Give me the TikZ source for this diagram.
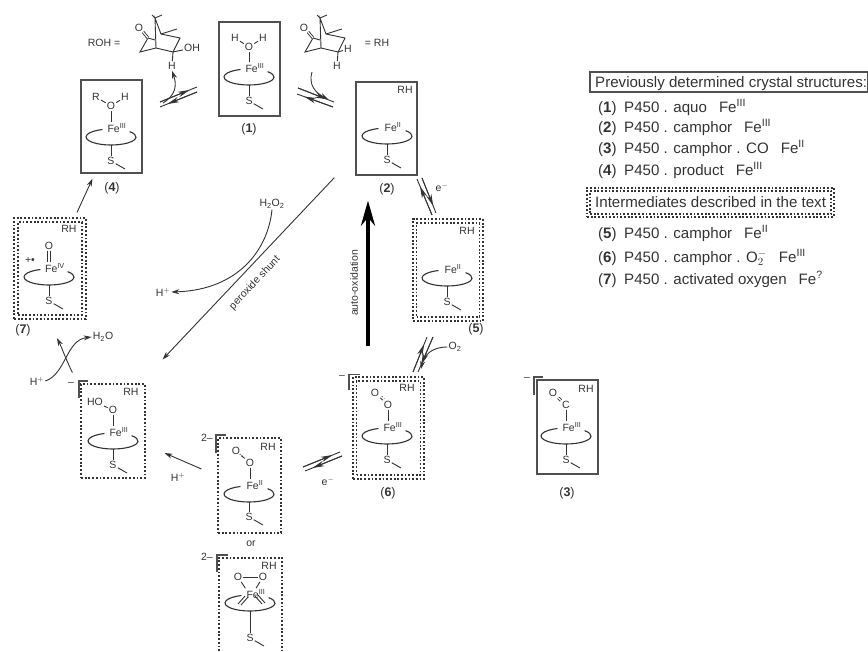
\documentclass[tikz,border=0pt]{standalone}
\usepackage{fontspec}
\setmainfont{Liberation Sans}
\usetikzlibrary{arrows.meta,calc}
\definecolor{inkgray}{HTML}{333333}
\definecolor{boxgray}{HTML}{505050}
\tikzset{
	bondline/.style={line width=0.9pt, color=inkgray},
	ringline/.style={line width=1.1pt, color=inkgray},
	solidbox/.style={draw=boxgray, line width=1.3pt, inner sep=0pt},
	dotbox/.style={draw=inkgray, line width=1.1pt, dash pattern=on 1.8pt off 1.9pt, inner sep=0pt},
	bracketline/.style={line width=1.6pt, color=boxgray},
	legendtext/.style={font=\fontsize{15.1}{17}\selectfont, anchor=base west},
	cmpdlabel/.style={font=\fontsize{12.5}{14}\selectfont}
}
% ring, stem and thioether of one heme unit
\newcommand{\hemeunit}[5]{%
	\begin{scope}[shift={(#2,#3)}]
		\draw[ringline] (18.6,-5.35) arc[start angle=42, end angle=-250, x radius=25pt, y radius=8pt];
		\node (#1fe) at (6,-9) {Fe\textsuperscript{#4}};
		\node (#1s) at (0,#5) {S};
		\draw[bondline] (0,8) -- (#1s);
		\draw[bondline] (#1s) -- (14,#5+8);
	\end{scope}
}
% equilibrium arrow pair, each line with its own head
\newcommand{\eqpair}[5]{%
	\coordinate (#1a) at (#2); \coordinate (#1b) at (#3);
	\coordinate (#1c) at (#4); \coordinate (#1d) at (#5);
	\draw[bondline] (#1a) -- (#1b);
	\draw[bondline, -{Stealth[length=12pt,width=5.5pt]}] (#1a) -- ($(#1a)!0.8!(#1b)$);
	\draw[bondline] (#1c) -- (#1d);
	\draw[bondline, -{Stealth[length=12pt,width=5.5pt]}] (#1d) -- ($(#1d)!0.8!(#1c)$);
}
% bicyclic cage of the substrate
\newcommand{\cagelines}[1]{%
	\begin{scope}[xshift=#1pt]
		\draw[bondline] (148,38) -- (140,52) -- (156,48) -- (155,18) -- (161,34) -- (180,38) -- (173,52) -- (156,48);
		\draw[bondline] (148,38) -- (155,40);
		\draw[bondline] (161,34) -- (177,29);
		\draw[bondline] (152,15) -- (155,18) -- (162,15);
		\draw[bondline, double, double distance=1.2pt] (143,32) -- (148,38);
		\node (cageo#1) at (139,28) {O};
	\end{scope}
}
\begin{document}
\begin{tikzpicture}[x=1pt, y=-1pt, >={Stealth[length=8pt,width=5pt]},
	every node/.style={font=\fontsize{10.5}{12}\selectfont, text=inkgray, inner sep=1pt}]
	\useasboundingbox (0,0) rectangle (868,651);

	% ==== boxes ====
	\node[solidbox, minimum width=61pt, minimum height=94pt] (boxi) at (249.5,69) {};
	\node[solidbox, minimum width=61pt, minimum height=93pt] (boxiv) at (111.5,126.5) {};
	\node[solidbox, minimum width=61pt, minimum height=93pt] (boxii) at (386.5,128.5) {};
	\node[solidbox, minimum width=61pt, minimum height=94pt] (boxiii) at (567.5,427) {};
	\node[dotbox, minimum width=72pt, minimum height=101pt] (boxvii) at (50,268.5) {};
	\node[dotbox, minimum width=64pt, minimum height=93pt] (boxviiin) at (50,268.5) {};
	\node[dotbox, minimum width=70pt, minimum height=102pt] (boxv) at (448,270) {};
	\node[dotbox, minimum width=63pt, minimum height=94pt] (boxvin) at (448,270) {};
	\node[dotbox, minimum width=71pt, minimum height=102pt] (boxvi) at (388.5,428) {};
	\node[dotbox, minimum width=64pt, minimum height=94pt] (boxviin) at (388.5,428) {};
	\node[dotbox, minimum width=64pt, minimum height=94pt] (boxhoo) at (113,431) {};
	\node[dotbox, minimum width=63pt, minimum height=95pt] (boxiia) at (249.5,485.5) {};
	\draw[line width=1.1pt, color=inkgray, dash pattern=on 1.8pt off 1.9pt] (219,651) -- (219,558) -- (282,558) -- (282,651);

	% ==== heme units ====
	\hemeunit{i}{249}{77}{III}{24}
	\hemeunit{iv}{111}{137}{III}{24}
	\hemeunit{ii}{387}{136}{II}{24}
	\hemeunit{v}{447}{278}{II}{24}
	\hemeunit{vi}{387}{436}{III}{24}
	\hemeunit{iii}{566}{436}{III}{24}
	\hemeunit{vii}{49}{277}{IV}{24}
	\hemeunit{hoo}{113}{441}{III}{24}
	\hemeunit{iia}{249}{494}{II}{23}
	\hemeunit{iib}{250}{603}{III}{35}

	% ==== axial ligands ====
	\node (oi) at (249,47) {O};
	\node (hil) at (235,38) {H};
	\node (hir) at (263,38) {H};
	\draw[bondline] (hil) -- (oi);
	\draw[bondline] (hir) -- (oi);
	\draw[bondline] (oi) -- (oi |- ife.north);

	\node (oiv) at (111,106) {O};
	\node (riv) at (96,97) {R};
	\node (hiv) at (125,97) {H};
	\draw[bondline] (riv) -- (oiv);
	\draw[bondline] (hiv) -- (oiv);
	\draw[bondline] (oiv) -- (oiv |- ivfe.north);

	\node (ovii) at (49,246) {O};
	\draw[bondline, double, double distance=1.4pt] (ovii) -- (ovii |- viife.north);
	\node (radvii) at (30,260) {+•};

	\node (cvi) at (388,405) {O};
	\node (ovi) at (375,393) {O};
	\draw[bondline] (ovi) -- (cvi);
	\draw[bondline, dotted, transform canvas={xshift=1.5pt, yshift=1.5pt}] (ovi) -- (cvi);
	\draw[bondline] (cvi) -- (cvi |- vife.north);

	\node (ciii) at (566,405) {C};
	\node (oiii) at (553,393) {O};
	\draw[bondline, double, double distance=1.2pt] (oiii) -- (ciii);
	\draw[bondline] (ciii) -- (ciii |- iiife.north);

	\node (ohoo) at (113,410) {O};
	\node (hohoo) at (95,402) {HO};
	\draw[bondline] (hohoo) -- (ohoo);
	\draw[bondline] (ohoo) -- (ohoo |- hoofe.north);

	\node (oiia) at (250,463) {O};
	\node (oiiap) at (236,451) {O};
	\draw[bondline] (oiiap) -- (oiia);
	\draw[bondline, dotted, transform canvas={xshift=-1.5pt, yshift=1.5pt}] (oiiap) -- (oiia);
	\draw[bondline] (oiia) -- (oiia |- iiafe.north);

	\node (oibl) at (238,577) {O};
	\node (oibr) at (263,577) {O};
	\draw[bondline] (oibl) -- (oibr);
	\draw[bondline] (oibl) -- (iibfe.north west);
	\draw[bondline] (oibr) -- (iibfe.north);
	\draw[bondline] (238,604) -- (245,596);
	\draw[bondline] (241,605) -- (248,597);
	\draw[bondline] (255,596) -- (262,604);
	\draw[bondline] (258,595) -- (265,603);

	% ==== RH tags ====
	\node (rhii) at (405,90) {RH};
	\node (rhvii) at (69,229) {RH};
	\node (rhv) at (467,231) {RH};
	\node (rhvi) at (407,388) {RH};
	\node (rhiii) at (586,389) {RH};
	\node (rhhoo) at (131,392) {RH};
	\node (rhiia) at (268,447) {RH};
	\node (rhiib) at (269,566) {RH};

	% ==== charge brackets ====
	\draw[bracketline] (349,390) -- (349,374.5) -- (360,374.5);
	\node (chvi) at (342,377) {--};
	\draw[bracketline] (534,395) -- (534,377) -- (543,377);
	\node (chiii) at (527,379) {--};
	\draw[bracketline] (79,398) -- (79,381) -- (88,381);
	\node (chhoo) at (71,384) {--};
	\draw[bracketline] (216,453) -- (216,435) -- (226,435);
	\node (chiia) at (207,438) {2--};
	\draw[bracketline] (217,572) -- (217,555) -- (228,555);
	\node (chiib) at (207,557) {2--};

	% ==== compound labels ====
	\node[cmpdlabel] (lbli) at (249,129) {(\textbf{1})};
	\node[cmpdlabel] (lbliv) at (112,188) {(\textbf{4})};
	\node[cmpdlabel] (lblii) at (387,189) {(\textbf{2})};
	\node[cmpdlabel] (lblvii) at (23,330) {(\textbf{7})};
	\node[cmpdlabel] (lblv) at (476,329) {(\textbf{5})};
	\node[cmpdlabel] (lblvi) at (388,493) {(\textbf{6})};
	\node[cmpdlabel] (lbliii) at (567,493) {(\textbf{3})};
	\node (lblor) at (251,544) {or};

	% ==== substrate and product ====
	\node (rohtext) at (104,43) {ROH =};
	\cagelines{0}
	\node (ohl) at (192,48) {OH};
	\node (hl) at (172,66) {H};
	\draw[bondline] (173,52) -- (ohl);
	\draw[bondline] (173,52) -- (hl);
	\node (rhtext) at (377,43) {= RH};
	\cagelines{165}
	\node (hrr) at (348,49) {H};
	\node (hrb) at (337,66) {H};
	\draw[bondline] (338,52) -- (hrr);
	\draw[bondline] (338,52) -- (hrb);

	% ==== cycle arrows ====
	\eqpair{eqa}{160,102}{197,87}{160,107}{197,92}
	\eqpair{eqb}{298,88}{334,102}{297,94}{333,107}
	\eqpair{eqc}{432,215}{417,179}{436,213}{422,178}
	\eqpair{eqd}{413,372}{427,337}{418,372}{433,337}
	\eqpair{eqe}{303,467}{340,452}{305,471}{342,456}
	\draw[bondline, ->] (163,103) .. controls (176,95) and (177,85) .. (hl.south);
	\draw[bondline, ->] (312,72) .. controls (308,85) and (316,93) .. (328,99);
	\draw[bondline, ->] ($(boxvii.north)+(27,-5)$) -- ($(boxiv.south)+(-19,5)$);

	\node (eii) at (442,187) {e$^{-}$};
	\node (oii) at (455,347) {O\textsubscript{2}};
	\draw[bondline, ->] (oii.west) .. controls (432,347) and (424,355) .. (421,369);
	\node (evi) at (328,481) {e$^{-}$};

	\draw[line width=4pt, color=black, -{Stealth[length=25pt,width=14pt]}] ($(boxvi.north)+(-20.5,-30)$) -- ($(boxii.south)+(-18.5,25)$);
	\node[rotate=90] (autotext) at (354,283) {auto-oxidation};

	\draw[bondline, ->] ($(boxii.south west)+(-21,2)$) -- ($(boxhoo.north east)+(17,-24)$);
	\node[rotate=47] (shunttext) at (255,283) {peroxide shunt};
	\node (hhoo) at (272,204) {H\textsubscript{2}O\textsubscript{2}};
	\node (hpa) at (163,292) {H$^{+}$};
	\draw[bondline, ->] (hhoo.south) .. controls (268,250) and (238,290) .. (hpa.east);

	\node (hpb) at (37,381) {H$^{+}$};
	\node (hwat) at (103,337) {H\textsubscript{2}O};
	\draw[bondline, ->] (hpb.east) .. controls (66,374) and (66,340) .. (hwat.west);
	\draw[bondline, ->] ($(boxhoo.north west)+(-8,-11)$) .. controls (66,360) and (62,348) .. (57,338);

	\node (hpc) at (178,477) {H$^{+}$};
	\draw[bondline, ->] ($(boxiia.west)+(-16,-16.5)$) -- ($(boxhoo.east)+(19,22)$);

	% ==== legend ====
	\node[solidbox, minimum width=278pt, minimum height=20pt, line width=1.1pt] (legboxa) at (729,82) {};
	\node[legendtext] (leghead) at (594,87) {Previously determined crystal structures:};
	\foreach \n/\y/\txt in {1/112/aquo\hspace{12pt}Fe\textsuperscript{III},
		2/132/camphor\hspace{12pt}Fe\textsuperscript{III},
		3/153/camphor . CO\hspace{12pt}Fe\textsuperscript{II},
		4/175/product\hspace{12pt}Fe\textsuperscript{III},
		5/238/camphor\hspace{12pt}Fe\textsuperscript{II},
		6/262/camphor . O$_{2}^{-}$\hspace{12pt}Fe\textsuperscript{III},
		7/284/activated oxygen\hspace{12pt}Fe\textsuperscript{?}}
	{
		\node[legendtext] (lega\n) at (597,\y) {(\textbf{\n})};
		\node[legendtext] (legb\n) at (623,\y) {P450 . \txt};
	}
	\node[dotbox, minimum width=247pt, minimum height=29pt] (legboxb) at (710.5,202.5) {};
	\node[dotbox, minimum width=241pt, minimum height=23pt] (legboxc) at (710.5,202.5) {};
	\node[legendtext] (legmid) at (594,207) {Intermediates described in the text};
\end{tikzpicture}
\end{document}
